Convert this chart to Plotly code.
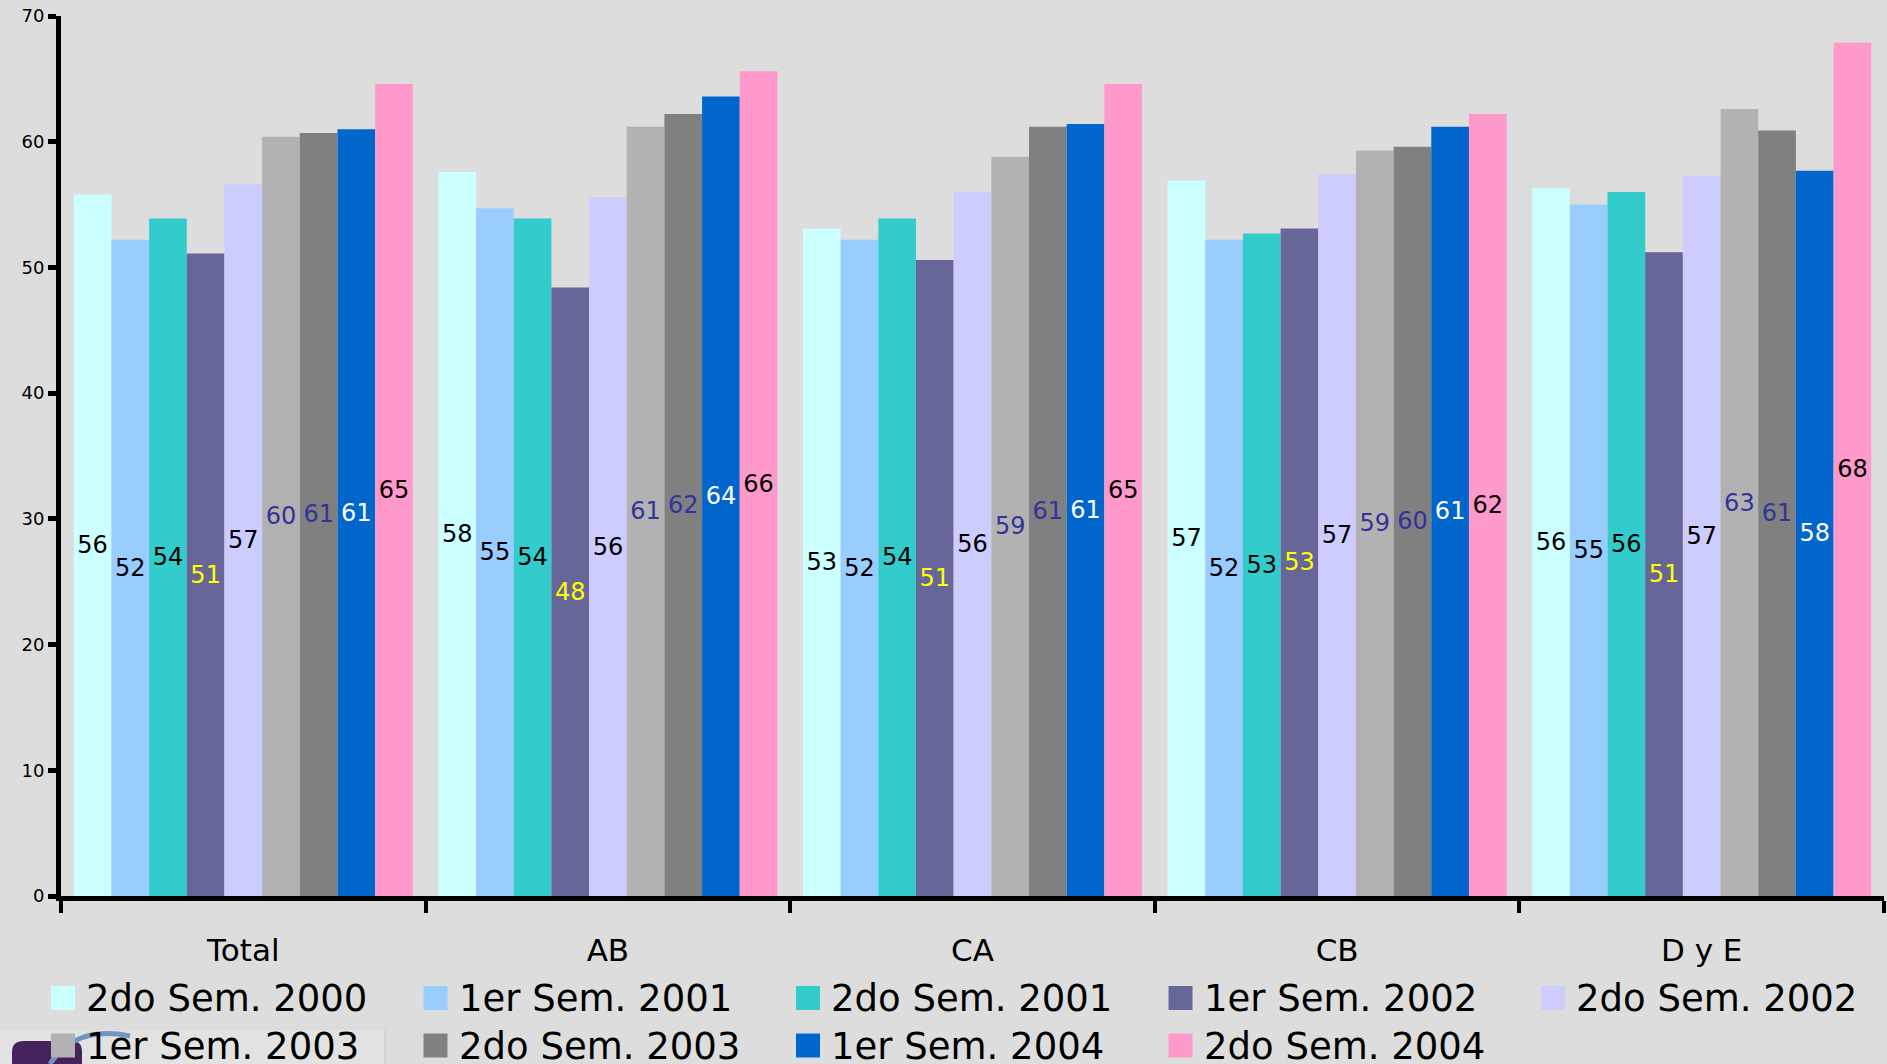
import plotly.graph_objects as go

# Categories on the x axis
categories = ["Total", "AB", "CA", "CB", "D y E"]

# Semester series names
series_names = [
    "2do Sem. 2000", "1er Sem. 2001", "2do Sem. 2001", "1er Sem. 2002",
    "2do Sem. 2002", "1er Sem. 2003", "2do Sem. 2003", "1er Sem. 2004",
    "2do Sem. 2004",
]

# Values per series, one per category (Total, AB, CA, CB, D y E)
sem2_2000 = [55.8, 57.6, 53.1, 56.9, 56.3]
sem1_2001 = [52.2, 54.7, 52.2, 52.2, 55.0]
sem2_2001 = [53.9, 53.9, 53.9, 52.7, 56.0]
sem1_2002 = [51.1, 48.4, 50.6, 53.1, 51.2]
sem2_2002 = [56.6, 55.6, 56.0, 57.4, 57.3]
sem1_2003 = [60.4, 61.2, 58.8, 59.3, 62.6]
sem2_2003 = [60.7, 62.2, 61.2, 59.6, 60.9]
sem1_2004 = [61.0, 63.6, 61.4, 61.2, 57.7]
sem2_2004 = [64.6, 65.6, 64.6, 62.2, 67.9]

series_values = [
    sem2_2000, sem1_2001, sem2_2001, sem1_2002, sem2_2002,
    sem1_2003, sem2_2003, sem1_2004, sem2_2004,
]

bar_colors = [
    "#CCFFFF", "#99CCFF", "#33CCCC", "#666699", "#CCCCFF",
    "#B2B2B2", "#808080", "#0066CC", "#FF99CC",
]
label_colors = [
    "#000000", "#000000", "#000000", "#FFFF00", "#000000",
    "#333399", "#333399", "#FFFFFF", "#000000",
]

y_ticks = [0, 10, 20, 30, 40, 50, 60, 70]

W, H = 1887, 1064
ML, MR, MT, MB = 61, 3, 16, 168
FONT = "DejaVu Sans"


def px_x(x):
    return (x - ML) / (W - ML - MR)


def px_y(y):
    return (H - MB - y) / (H - MT - MB)


fig = go.Figure()

for name, vals, col, lcol in zip(series_names, series_values, bar_colors, label_colors):
    fig.add_trace(go.Bar(
        name=name,
        x=categories,
        y=vals,
        marker=dict(color=col, line=dict(width=0)),
        texttemplate="%{y:.0f}",
        textposition="inside",
        insidetextanchor="middle",
        textangle=0,
        constraintext="none",
        textfont=dict(family=FONT, size=24, color=lcol),
        showlegend=False,
    ))

shapes = []
annotations = []

# Corner panel with a small logo, partly behind the legend
shapes.append(dict(type="rect", xref="paper", yref="paper",
                   x0=px_x(0), x1=px_x(385), y0=px_y(1030), y1=px_y(1064),
                   fillcolor="#E2E2E2", line=dict(width=0), layer="below"))
shapes.append(dict(type="line", xref="paper", yref="paper",
                   x0=px_x(385), x1=px_x(385), y0=px_y(1030), y1=px_y(1064),
                   line=dict(color="#C8C8C8", width=1)))
logo_path = "M {a},{b} L {a},{c} Q {a},{d} {e},{d} L {f},{d} Q {g},{d} {g},{c} L {g},{b} Z".format(
    a=px_x(12), b=px_y(1064), c=px_y(1052), d=px_y(1041),
    e=px_x(24), f=px_x(72), g=px_x(82))
shapes.append(dict(type="path", xref="paper", yref="paper", path=logo_path,
                   fillcolor="#45215E", line=dict(width=0)))
swoosh = "M {x0},{y0} Q {x1},{y1} {x2},{y2}".format(
    x0=px_x(50), y0=px_y(1064), x1=px_x(75), y1=px_y(1025), x2=px_x(130), y2=px_y(1036))
shapes.append(dict(type="path", xref="paper", yref="paper", path=swoosh,
                   line=dict(color="#7394BE", width=5)))

# Legend: two rows of five entries
leg_x = [51, 423.5, 796, 1168.5, 1541]
leg_y = [998, 1045.5]
sw = 24
for i, (name, col) in enumerate(zip(series_names, bar_colors)):
    r, c = divmod(i, 5)
    cx, cy = leg_x[c], leg_y[r]
    shapes.append(dict(type="rect", xref="paper", yref="paper",
                       x0=px_x(cx), x1=px_x(cx + sw),
                       y0=px_y(cy + sw / 2), y1=px_y(cy - sw / 2),
                       fillcolor=col, line=dict(width=0)))
    annotations.append(dict(xref="paper", yref="paper",
                            x=px_x(cx + 33), y=px_y(cy + 1),
                            xanchor="left", yanchor="middle",
                            text=name, showarrow=False,
                            font=dict(family=FONT, size=37, color="#000000")))

fig.update_layout(
    width=W, height=H,
    margin=dict(l=ML, r=MR, t=MT, b=MB, pad=0),
    paper_bgcolor="#DDDDDD",
    plot_bgcolor="#DDDDDD",
    barmode="group",
    bargap=0.07,
    bargroupgap=0,
    showlegend=False,
    shapes=shapes,
    annotations=annotations,
    font=dict(family=FONT, color="#000000"),
)

fig.update_xaxes(
    type="category",
    showgrid=False,
    showline=True, linecolor="#000000", linewidth=5,
    ticks="outside", tickson="boundaries", ticklen=12, tickwidth=4,
    tickcolor="#000000",
    tickfont=dict(family=FONT, size=31, color="#000000"),
    ticklabelstandoff=23,
)

fig.update_yaxes(
    range=[0, 70],
    tickvals=y_ticks,
    showgrid=False, zeroline=False,
    showline=True, linecolor="#000000", linewidth=5,
    ticks="outside", ticklen=8, tickwidth=5, tickcolor="#000000",
    tickfont=dict(family=FONT, size=18, color="#000000"),
)

fig.write_html("out.html")
